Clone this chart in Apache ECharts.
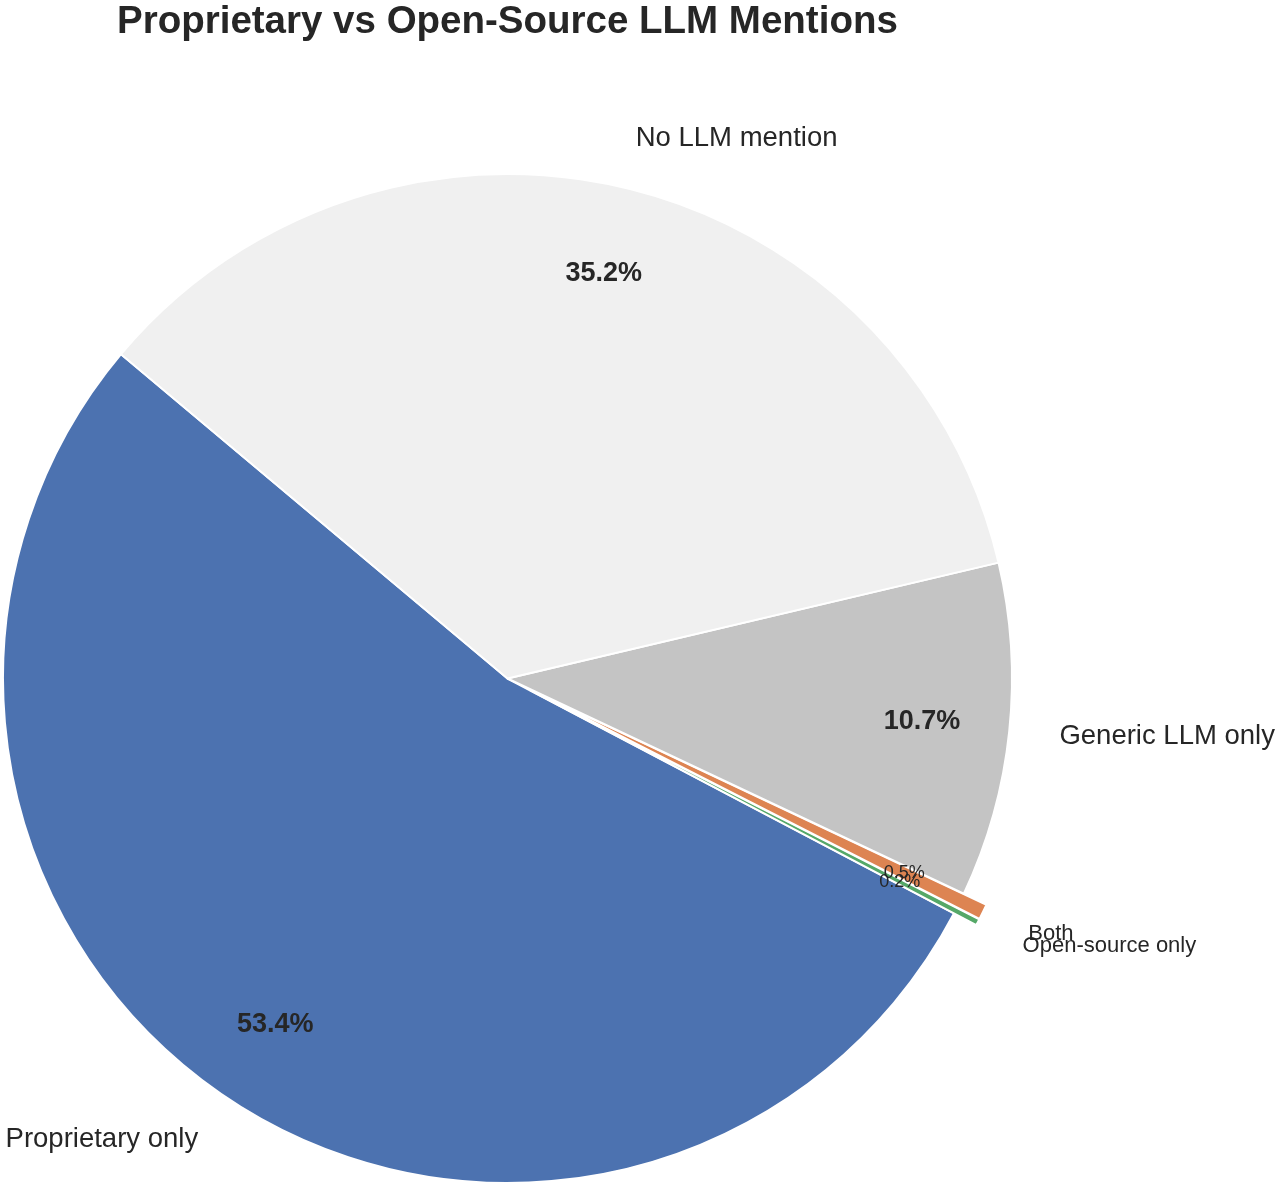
<!DOCTYPE html>
<html>
<head>
<meta charset="utf-8">
<style>html,body{margin:0;padding:0;background:#fff;}#chart{width:1280px;height:1188px;}</style>
<script src="https://cdn.jsdelivr.net/npm/echarts@6/dist/echarts.min.js"></script>
</head>
<body>
<div id="chart"></div>
<script>
const categories = ['Proprietary only', 'Open-source only', 'Both', 'Generic LLM only', 'No LLM mention'];
const values = [53.4, 0.2, 0.5, 10.7, 35.2];
const colors = ['#4c72b0', '#55a868', '#dd8452', '#c4c4c4', '#f0f0f0'];
const exploded = [false, true, true, false, false];
const smallSlice = [false, true, true, false, false];

const R = 504.5;
const CX = 507.5, CY = 678.5;
const FONT = '"Liberation Sans", Arial, Helvetica, sans-serif';

const chart = echarts.init(document.getElementById('chart'), null, {renderer: 'canvas'});

const mainData = categories.map((c, i) => ({
  name: c, value: values[i], selected: exploded[i],
  itemStyle: {color: colors[i]},
  label: {fontSize: smallSlice[i] ? 22 : 27.5}
}));
const pctData = categories.map((c, i) => ({
  name: c, value: values[i], selected: exploded[i],
  label: smallSlice[i] ? {fontSize: 18, fontWeight: 'normal'} : {fontSize: 27, fontWeight: 'bold'}
}));

chart.setOption({
  animation: false,
  title: {
    text: 'Proprietary vs Open-Source LLM Mentions',
    left: 112, top: -2, padding: 5,
    textStyle: {fontFamily: FONT, fontSize: 38.5, fontWeight: 'bold', color: '#262626'}
  },
  series: [
    {
      type: 'pie',
      center: [CX, CY],
      radius: [0, R],
      startAngle: 140,
      clockwise: false,
      selectedMode: 'multiple',
      selectedOffset: R * 0.05,
      avoidLabelOverlap: false,
      labelLayout: {hideOverlap: false},
      emphasis: {disabled: true},
      itemStyle: {borderColor: '#ffffff', borderWidth: 2},
      label: {
        show: true, position: 'outside', formatter: '{b}',
        fontFamily: FONT, fontSize: 27.5, color: '#262626',
        distanceToLabelLine: 0
      },
      labelLine: {show: false, length: R * 0.1, length2: 0},
      data: mainData
    },
    {
      type: 'pie',
      center: [CX, CY],
      radius: [R * 0.64, R],
      startAngle: 140,
      clockwise: false,
      selectedMode: 'multiple',
      selectedOffset: R * 0.05,
      avoidLabelOverlap: false,
      labelLayout: {hideOverlap: false},
      silent: true,
      emphasis: {disabled: true},
      itemStyle: {color: 'rgba(0,0,0,0)', borderWidth: 0},
      label: {
        show: true, position: 'inside',
        formatter: p => p.value.toFixed(1) + '%',
        fontFamily: FONT, color: '#262626'
      },
      labelLine: {show: false},
      data: pctData
    }
  ]
});
</script>
</body>
</html>
